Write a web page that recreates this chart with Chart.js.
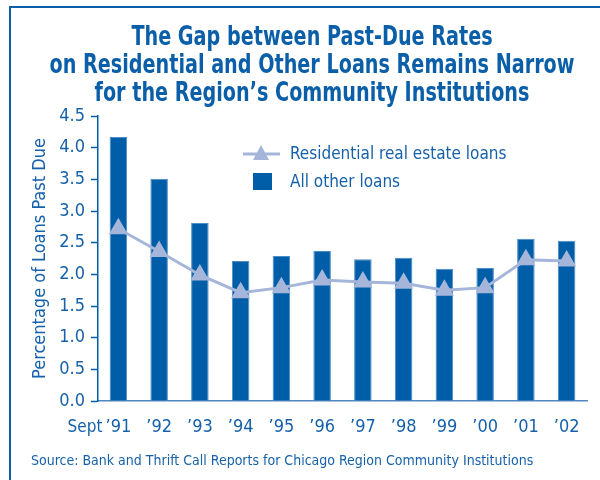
<!DOCTYPE html>
<html>
<head>
<meta charset="utf-8">
<script src="https://cdn.jsdelivr.net/npm/chart.js@4/dist/chart.umd.min.js"></script>
<style>
  html, body { margin: 0; padding: 0; background: #fff; }
  #wrap { position: relative; width: 600px; height: 480px; }
  #frame { position: absolute; left: 9px; top: 6px; right: 0; bottom: 0;
           border-top: 2px solid #0a5fa8; border-left: 2px solid #0a5fa8; }
  canvas { position: absolute; left: 0; top: 0; }
</style>
</head>
<body>
<div id="wrap">
  <div id="frame"></div>
  <canvas id="c" width="600" height="480"></canvas>
</div>
<script>
// ---- data ----
const years = ['\u201991', '\u201992', '\u201993', '\u201994', '\u201995', '\u201996',
               '\u201997', '\u201998', '\u201999', '\u201900', '\u201901', '\u201902'];
const otherLoans = [4.17, 3.51, 2.81, 2.21, 2.29, 2.37, 2.24, 2.26, 2.09, 2.10, 2.56, 2.53];
const residential = [2.72, 2.36, 1.99, 1.71, 1.79, 1.91, 1.88, 1.86, 1.75, 1.79, 2.23, 2.21];
const yTicks = [0, 0.5, 1, 1.5, 2, 2.5, 3, 3.5, 4, 4.5];

const titleLines = [
  'The Gap between Past-Due Rates',
  'on Residential and Other Loans Remains Narrow',
  'for the Region\u2019s Community Institutions'
];
const sourceText = 'Source: Bank and Thrift Call Reports for Chicago Region Community Institutions';

const NARROW = '"Liberation Sans Narrow", "DejaVu Sans Condensed", "Roboto Condensed", "Arial Narrow", sans-serif';
const TXT = '#1661a9';
const BAR = '#005ea8';
const LINE = '#a5b6da';

// title, legend, source line and the "Sept" prefix
const decor = {
  id: 'decor',
  afterDraw(chart) {
    const ctx = chart.ctx;
    ctx.save();
    ctx.fillStyle = '#0a5fa8';
    ctx.textAlign = 'center';
    ctx.textBaseline = 'middle';
    ctx.font = 'bold 26px ' + NARROW;
    // squeeze the title so its widest line spans what the reference does
    const widest = Math.max(...titleLines.map(t => ctx.measureText(t).width));
    const sx = Math.min(1, 525 / widest);
    titleLines.forEach((t, i) => {
      ctx.save();
      ctx.translate(312, 38 + i * 28);
      ctx.scale(sx, 1);
      ctx.fillText(t, 0, 0);
      ctx.restore();
    });

    // legend
    ctx.strokeStyle = LINE;
    ctx.lineWidth = 3;
    ctx.beginPath();
    ctx.moveTo(243, 154); ctx.lineTo(280, 154); ctx.stroke();
    ctx.fillStyle = LINE;
    ctx.beginPath();
    ctx.moveTo(261, 145); ctx.lineTo(269, 160); ctx.lineTo(253, 160); ctx.closePath(); ctx.fill();
    ctx.fillStyle = BAR;
    ctx.fillRect(253, 173, 19, 17);
    ctx.fillStyle = TXT;
    ctx.textAlign = 'left';
    ctx.font = '17px ' + NARROW;
    ctx.fillText('Residential real estate loans', 290, 155);
    ctx.fillText('All other loans', 290, 183);

    // "Sept" ahead of the first year label
    const x0 = chart.scales.x.getPixelForValue(0);
    ctx.textAlign = 'right';
    ctx.fillText('Sept', x0 - 16, 428);

    ctx.font = '14px ' + NARROW;
    ctx.textAlign = 'left';
    ctx.fillText(sourceText, 31, 461);
    ctx.restore();
  }
};

new Chart(document.getElementById('c'), {
  type: 'bar',
  data: {
    labels: years,
    datasets: [
      {
        type: 'line',
        label: 'Residential real estate loans',
        data: residential,
        borderColor: LINE,
        backgroundColor: LINE,
        borderWidth: 3,
        pointStyle: 'triangle',
        pointRadius: 8,
        pointHoverRadius: 8,
        pointBackgroundColor: LINE,
        pointBorderColor: LINE,
        tension: 0,
        order: 0
      },
      {
        label: 'All other loans',
        data: otherLoans,
        backgroundColor: BAR,
        borderColor: '#4a8bc8',
        borderWidth: 1,
        barPercentage: 0.43,
        categoryPercentage: 1,
        order: 1
      }
    ]
  },
  options: {
    responsive: false,
    animation: false,
    layout: { padding: { left: 30, top: 116, right: 13, bottom: 39 } },
    plugins: { legend: { display: false }, title: { display: false }, tooltip: { enabled: false } },
    scales: {
      x: {
        offset: true,
        grid: { display: false, drawTicks: false },
        border: { color: '#4f86c0', width: 1.5 },
        ticks: { color: TXT, font: { family: NARROW, size: 18 }, padding: 16, maxRotation: 0 },
        afterFit(s) { s.height = 40; }
      },
      y: {
        min: 0,
        max: 4.5,
        afterBuildTicks(s) { s.ticks = yTicks.map(v => ({ value: v })); },
        grid: { drawOnChartArea: false, tickLength: 7, color: BAR, tickWidth: 1.5 },
        border: { color: BAR, width: 1.5 },
        ticks: {
          color: TXT, padding: 6,
          font: { family: NARROW, size: 18 },
          callback: v => v.toFixed(1)
        },
        title: {
          display: true, text: 'Percentage of Loans Past Due',
          color: TXT, font: { family: NARROW, size: 18 }, padding: { top: 0, bottom: 0 }
        },
        afterFit(s) { s.width = 68; }
      }
    }
  },
  plugins: [decor]
});
</script>
</body>
</html>
